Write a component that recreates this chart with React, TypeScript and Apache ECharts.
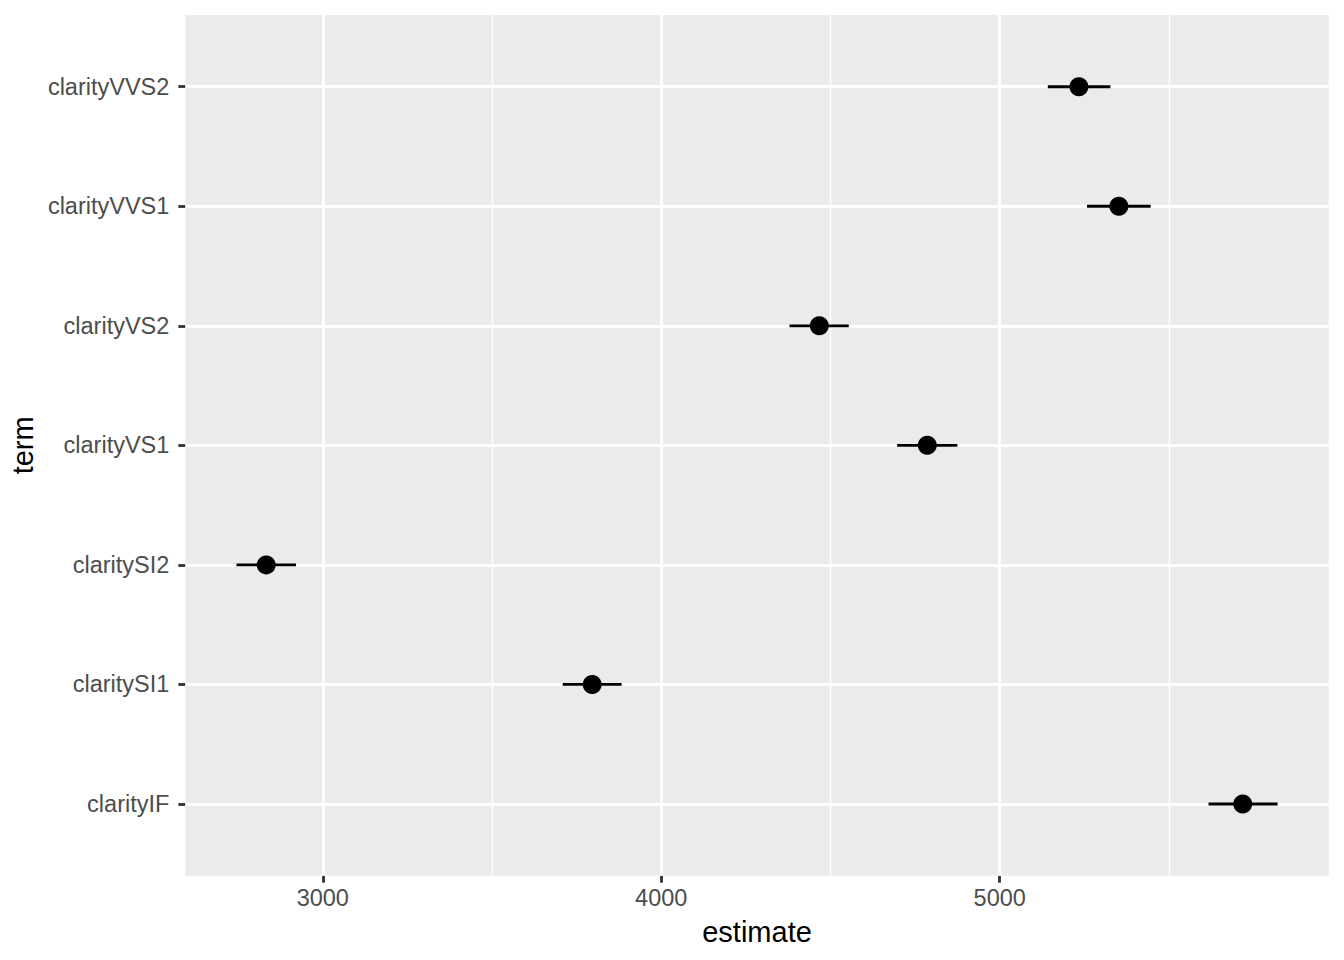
import React, { useEffect, useRef } from "react";
import * as echarts from "echarts";

// Terms listed from bottom (index 1) to top (index 7)
const terms = [
  "clarityIF",
  "claritySI1",
  "claritySI2",
  "clarityVS1",
  "clarityVS2",
  "clarityVVS1",
  "clarityVVS2",
];
const estimates = [5718, 3796, 2833, 4786, 4467, 5352, 5234];
const lows = [5617, 3709, 2745, 4697, 4379, 5258, 5142];
const highs = [5821, 3883, 2921, 4875, 4554, 5446, 5327];

const xMajor = [3000, 4000, 5000];
const xMinor = [3500, 4500, 5500];
const yPositions = [1, 2, 3, 4, 5, 6, 7];

const FONT = "'Liberation Sans', Arial, Helvetica, sans-serif";

export default function App() {
  const ref = useRef<HTMLDivElement>(null);

  useEffect(() => {
    if (!ref.current) return;
    const chart = echarts.init(ref.current, undefined, { renderer: "svg" });

    const pointData = estimates.map((e, i) => [e, yPositions[i]]);
    const barData = lows.map((l, i) => [l, highs[i], yPositions[i]]);

    chart.setOption({
      animation: false,
      backgroundColor: "#FFFFFF",
      grid: {
        left: 184,
        right: 15.3,
        top: 15,
        bottom: 84.3,
        show: true,
        backgroundColor: "#EBEBEB",
        borderWidth: 0,
      },
      xAxis: {
        type: "value",
        min: 2594,
        max: 5972,
        name: "estimate",
        nameLocation: "middle",
        nameGap: 42,
        nameTextStyle: { fontFamily: FONT, fontSize: 29, color: "#000000" },
        axisLine: { show: false },
        splitLine: { show: false },
        axisTick: {
          show: true,
          customValues: xMajor,
          length: 7,
          lineStyle: { color: "#333333", width: 2.85 },
        },
        axisLabel: {
          customValues: xMajor,
          margin: 10,
          fontFamily: FONT,
          fontSize: 23.5,
          color: "#4D4D4D",
          formatter: (v: number) => String(v),
        },
      },
      yAxis: {
        type: "value",
        min: 0.4,
        max: 7.6,
        name: "term",
        nameLocation: "middle",
        nameRotate: 90,
        nameGap: 145,
        nameTextStyle: { fontFamily: FONT, fontSize: 29, color: "#000000" },
        axisLine: { show: false },
        splitLine: { show: false },
        axisTick: {
          show: true,
          customValues: yPositions,
          length: 7,
          lineStyle: { color: "#333333", width: 2.85 },
        },
        axisLabel: {
          customValues: yPositions,
          margin: 16,
          fontFamily: FONT,
          fontSize: 23.5,
          color: "#4D4D4D",
          formatter: (v: number) => terms[Math.round(v) - 1] ?? "",
        },
      },
      series: [
        {
          type: "line",
          data: [],
          z: 1,
          silent: true,
          markLine: {
            silent: true,
            z: 1,
            symbol: "none",
            label: { show: false },
            animation: false,
            data: [
              ...xMinor.map((v) => ({
                xAxis: v,
                lineStyle: { color: "#FFFFFF", width: 1.42, type: "solid" },
              })),
              ...xMajor.map((v) => ({
                xAxis: v,
                lineStyle: { color: "#FFFFFF", width: 2.85, type: "solid" },
              })),
              ...yPositions.map((v) => ({
                yAxis: v,
                lineStyle: { color: "#FFFFFF", width: 2.85, type: "solid" },
              })),
            ],
          },
        },
        {
          type: "custom",
          z: 10,
          silent: true,
          data: barData,
          encode: { x: [0, 1], y: 2 },
          renderItem: (params: any, api: any) => {
            const p1 = api.coord([api.value(0), api.value(2)]);
            const p2 = api.coord([api.value(1), api.value(2)]);
            return {
              type: "line",
              shape: { x1: p1[0], y1: p1[1], x2: p2[0], y2: p2[1] },
              style: { stroke: "#000000", lineWidth: 2.85 },
            };
          },
        },
        {
          type: "scatter",
          z: 11,
          silent: true,
          data: pointData,
          symbol: "circle",
          symbolSize: 19,
          itemStyle: { color: "#000000", opacity: 1 },
        },
      ],
    });

    return () => {
      chart.dispose();
    };
  }, []);

  return (
    <div
      ref={ref}
      style={{
        position: "absolute",
        left: 0,
        top: 0,
        width: 1344,
        height: 960,
      }}
    />
  );
}
